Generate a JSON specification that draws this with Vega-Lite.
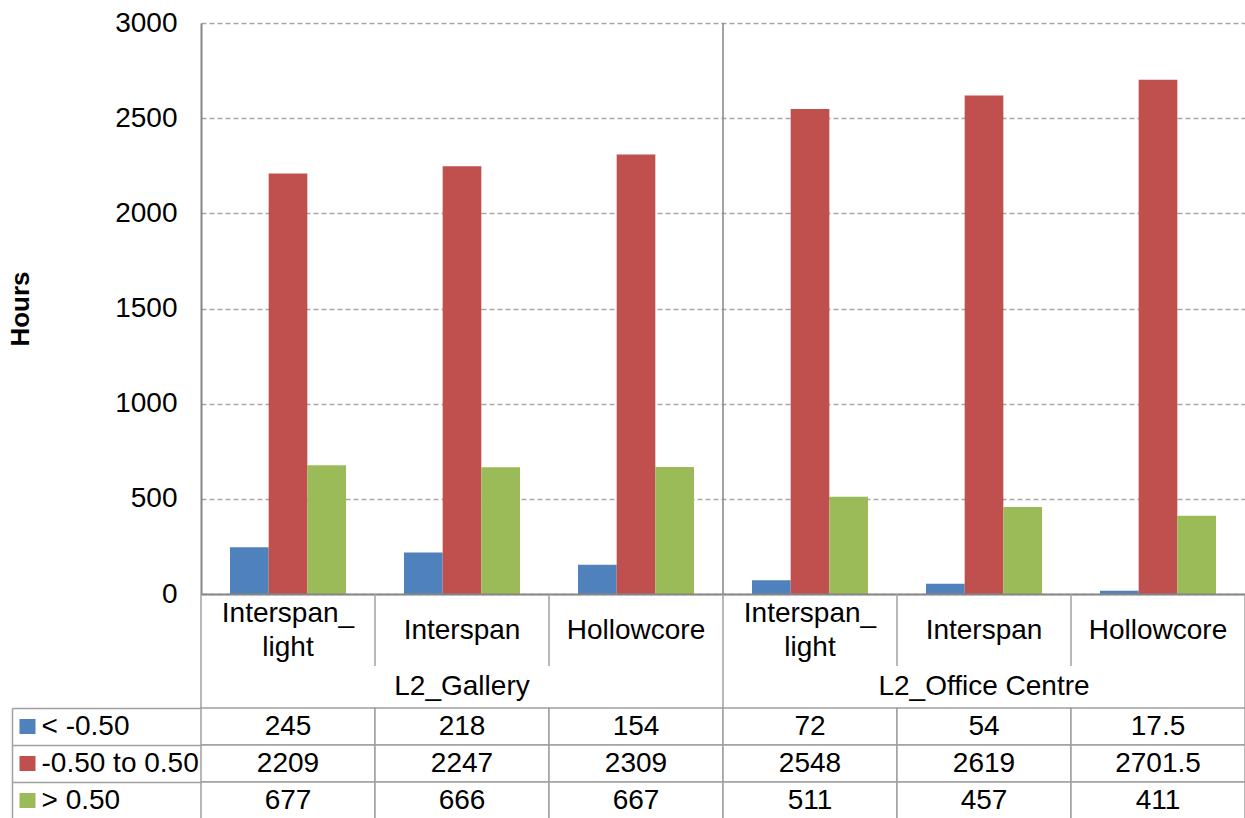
{
  "$schema": "https://vega.github.io/schema/vega-lite/v6.json",
  "background": "white",
  "padding": {"left": 7, "top": 9, "right": 0, "bottom": 0},
  "spacing": 0,
  "bounds": "flush",
  "resolve": {"scale": {"x": "independent", "y": "independent", "color": "independent"}},
  "config": {
    "font": "Liberation Sans",
    "view": {"stroke": null},
    "axis": {"labelFont": "Liberation Sans", "titleFont": "Liberation Sans", "labelColor": "black", "titleColor": "black"},
    "text": {"font": "Liberation Sans", "color": "black"}
  },
  "datasets": {
    "cats": [
      {"cat": "L2_Gallery / Interspan_light", "group": "L2_Gallery", "label": "Interspan_\nlight"},
      {"cat": "L2_Gallery / Interspan", "group": "L2_Gallery", "label": "Interspan"},
      {"cat": "L2_Gallery / Hollowcore", "group": "L2_Gallery", "label": "Hollowcore"},
      {"cat": "L2_Office Centre / Interspan_light", "group": "L2_Office Centre", "label": "Interspan_\nlight"},
      {"cat": "L2_Office Centre / Interspan", "group": "L2_Office Centre", "label": "Interspan"},
      {"cat": "L2_Office Centre / Hollowcore", "group": "L2_Office Centre", "label": "Hollowcore"}
    ],
    "groups": [
      {"group": "L2_Gallery"},
      {"group": "L2_Office Centre"}
    ],
    "hours": [
      {"cat": "L2_Gallery / Interspan_light", "series": "< -0.50", "hours": 245},
      {"cat": "L2_Gallery / Interspan_light", "series": "-0.50 to 0.50", "hours": 2209},
      {"cat": "L2_Gallery / Interspan_light", "series": "> 0.50", "hours": 677},
      {"cat": "L2_Gallery / Interspan", "series": "< -0.50", "hours": 218},
      {"cat": "L2_Gallery / Interspan", "series": "-0.50 to 0.50", "hours": 2247},
      {"cat": "L2_Gallery / Interspan", "series": "> 0.50", "hours": 666},
      {"cat": "L2_Gallery / Hollowcore", "series": "< -0.50", "hours": 154},
      {"cat": "L2_Gallery / Hollowcore", "series": "-0.50 to 0.50", "hours": 2309},
      {"cat": "L2_Gallery / Hollowcore", "series": "> 0.50", "hours": 667},
      {"cat": "L2_Office Centre / Interspan_light", "series": "< -0.50", "hours": 72},
      {"cat": "L2_Office Centre / Interspan_light", "series": "-0.50 to 0.50", "hours": 2548},
      {"cat": "L2_Office Centre / Interspan_light", "series": "> 0.50", "hours": 511},
      {"cat": "L2_Office Centre / Interspan", "series": "< -0.50", "hours": 54},
      {"cat": "L2_Office Centre / Interspan", "series": "-0.50 to 0.50", "hours": 2619},
      {"cat": "L2_Office Centre / Interspan", "series": "> 0.50", "hours": 457},
      {"cat": "L2_Office Centre / Hollowcore", "series": "< -0.50", "hours": 17.5},
      {"cat": "L2_Office Centre / Hollowcore", "series": "-0.50 to 0.50", "hours": 2701.5},
      {"cat": "L2_Office Centre / Hollowcore", "series": "> 0.50", "hours": 411}
    ]
  },
  "vconcat": [
    {
      "width": 1044,
      "height": 571,
      "layer": [
        {
          "data": {"name": "hours"},
          "mark": {"type": "bar"},
          "encoding": {
            "x": {
              "field": "cat", "type": "nominal", "sort": null,
              "scale": {"domain": ["L2_Gallery / Interspan_light", "L2_Gallery / Interspan", "L2_Gallery / Hollowcore", "L2_Office Centre / Interspan_light", "L2_Office Centre / Interspan", "L2_Office Centre / Hollowcore"], "paddingInner": 0, "paddingOuter": 0},
              "axis": {"labels": false, "ticks": false, "title": null, "grid": false, "domainColor": "#868686", "domainWidth": 2, "zindex": 1}
            },
            "xOffset": {
              "field": "series", "type": "nominal",
              "scale": {"domain": ["< -0.50", "-0.50 to 0.50", "> 0.50"], "paddingInner": 0, "paddingOuter": 0.75}
            },
            "y": {
              "field": "hours", "type": "quantitative",
              "scale": {"domain": [0, 3000], "nice": false},
              "axis": {
                "values": [0, 500, 1000, 1500, 2000, 2500, 3000], "format": "d",
                "grid": true, "gridColor": "#a6a6a6", "gridDash": [5, 3], "gridWidth": 1.3,
                "ticks": false, "labelPadding": 24, "labelFontSize": 28, "labelFlush": false,
                "domain": true, "domainColor": "#868686", "domainWidth": 2,
                "title": "Hours", "titleFontSize": 26, "titleFontWeight": "bold", "titlePadding": 81
              }
            },
            "color": {
              "field": "series", "type": "nominal",
              "scale": {"domain": ["< -0.50", "-0.50 to 0.50", "> 0.50"], "range": ["#4F81BD", "#C0504D", "#9BBB59"]},
              "legend": null
            }
          }
        },
        {
          "data": {"name": "cats"},
          "transform": [{"filter": "datum.cat === 'L2_Office Centre / Interspan_light'"}],
          "mark": {"type": "rule", "color": "#868686", "strokeWidth": 1.5},
          "encoding": {
            "x": {
              "field": "cat", "type": "nominal", "bandPosition": 0,
              "scale": {"domain": ["L2_Gallery / Interspan_light", "L2_Gallery / Interspan", "L2_Gallery / Hollowcore", "L2_Office Centre / Interspan_light", "L2_Office Centre / Interspan", "L2_Office Centre / Hollowcore"], "paddingInner": 0, "paddingOuter": 0}
            }
          }
        }
      ]
    },
    {
      "width": 1044,
      "height": 72,
      "data": {"name": "cats"},
      "encoding": {
        "x": {
          "field": "cat", "type": "nominal", "sort": null,
          "scale": {"domain": ["L2_Gallery / Interspan_light", "L2_Gallery / Interspan", "L2_Gallery / Hollowcore", "L2_Office Centre / Interspan_light", "L2_Office Centre / Interspan", "L2_Office Centre / Hollowcore"], "paddingInner": 0, "paddingOuter": 0},
          "axis": null
        }
      },
      "layer": [
        {
          "transform": [{"filter": "indexof(datum.cat, 'Interspan_light') < 0"}],
          "mark": {"type": "text", "fontSize": 28, "baseline": "middle", "dy": 1},
          "encoding": {"text": {"field": "label"}}
        },
        {
          "transform": [{"filter": "indexof(datum.cat, 'Interspan_light') >= 0"}],
          "mark": {"type": "text", "fontSize": 28, "lineBreak": "\n", "lineHeight": 34, "baseline": "middle", "dy": -16},
          "encoding": {"text": {"field": "label"}}
        },
        {
          "mark": {"type": "rule", "color": "#a0a0a0", "strokeWidth": 1.5},
          "encoding": {"x": {"field": "cat", "type": "nominal", "bandPosition": 0}}
        },
        {
          "transform": [{"filter": "datum.cat === 'L2_Office Centre / Hollowcore'"}],
          "mark": {"type": "rule", "color": "#a0a0a0", "strokeWidth": 1.5},
          "encoding": {"x": {"field": "cat", "type": "nominal", "bandPosition": 1}}
        }
      ]
    },
    {
      "width": 1044,
      "height": 42,
      "data": {"name": "groups"},
      "encoding": {
        "x": {
          "field": "group", "type": "nominal", "sort": null,
          "scale": {"domain": ["L2_Gallery", "L2_Office Centre"], "paddingInner": 0, "paddingOuter": 0},
          "axis": null
        }
      },
      "layer": [
        {
          "mark": {"type": "text", "fontSize": 28, "baseline": "middle"},
          "encoding": {"text": {"field": "group"}}
        },
        {
          "mark": {"type": "rule", "color": "#a0a0a0", "strokeWidth": 1.5},
          "encoding": {"x": {"field": "group", "type": "nominal", "bandPosition": 0}}
        },
        {
          "transform": [{"filter": "datum.group === 'L2_Office Centre'"}],
          "mark": {"type": "rule", "color": "#a0a0a0", "strokeWidth": 1.5},
          "encoding": {"x": {"field": "group", "type": "nominal", "bandPosition": 1}}
        }
      ]
    },
    {
      "width": 1044,
      "height": 111,
      "data": {"name": "hours"},
      "resolve": {"axis": {"y": "independent"}},
      "encoding": {
        "x": {
          "field": "cat", "type": "nominal", "sort": null,
          "scale": {"domain": ["L2_Gallery / Interspan_light", "L2_Gallery / Interspan", "L2_Gallery / Hollowcore", "L2_Office Centre / Interspan_light", "L2_Office Centre / Interspan", "L2_Office Centre / Hollowcore"], "paddingInner": 0, "paddingOuter": 0},
          "axis": null
        }
      },
      "layer": [
        {
          "mark": {"type": "rect", "fill": "white", "stroke": "#a0a0a0", "strokeWidth": 1.5},
          "encoding": {
            "y": {
              "field": "series", "type": "nominal", "sort": null,
              "scale": {"domain": ["< -0.50", "-0.50 to 0.50", "> 0.50"], "paddingInner": 0, "paddingOuter": 0},
              "axis": {
                "orient": "left", "offset": 189, "title": null, "grid": false,
                "domain": true, "domainColor": "#a0a0a0", "domainWidth": 1.5,
                "ticks": true, "tickBand": "extent", "tickSize": -189, "tickColor": "#a0a0a0", "tickWidth": 1.5,
                "labelAlign": "left", "labelBaseline": "middle", "labelPadding": 160, "labelFontSize": 28
              }
            }
          }
        },
        {
          "mark": {"type": "text", "fontSize": 28, "baseline": "middle"},
          "encoding": {
            "y": {
              "field": "series", "type": "nominal", "sort": null,
              "scale": {"domain": ["< -0.50", "-0.50 to 0.50", "> 0.50"], "paddingInner": 0, "paddingOuter": 0},
              "axis": {
                "orient": "left", "offset": 166, "title": null, "grid": false,
                "domain": false, "labels": false,
                "ticks": true, "tickSize": 16, "tickWidth": 15, "tickCap": "butt",
                "tickColor": {
                  "condition": [
                    {"test": "datum.value === '< -0.50'", "value": "#4F81BD"},
                    {"test": "datum.value === '-0.50 to 0.50'", "value": "#C0504D"}
                  ],
                  "value": "#9BBB59"
                }
              }
            },
            "text": {"field": "hours", "type": "quantitative"}
          }
        }
      ]
    }
  ]
}
